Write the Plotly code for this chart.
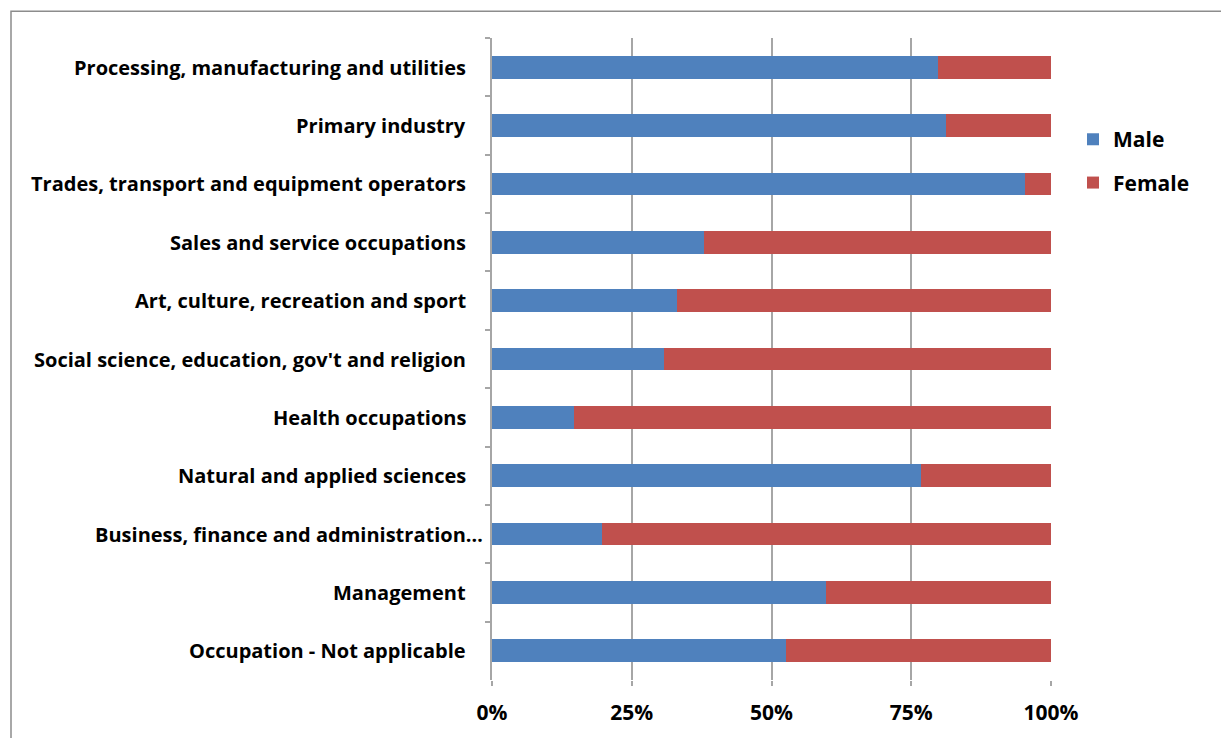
import plotly.graph_objects as go

# Occupation groups, top to bottom
categories = [
    "Processing, manufacturing and utilities",
    "Primary industry",
    "Trades, transport and equipment operators",
    "Sales and service occupations",
    "Art, culture, recreation and sport",
    "Social science, education, gov't and religion",
    "Health occupations",
    "Natural and applied sciences",
    "Business, finance and administration…",
    "Management",
    "Occupation - Not applicable",
]
male_pct = [79.7, 81.2, 95.4, 37.9, 33.1, 30.8, 14.7, 76.7, 19.7, 59.8, 52.6]
female_pct = [20.3, 18.8, 4.6, 62.1, 66.9, 69.2, 85.3, 23.3, 80.3, 40.2, 47.4]
x_ticks = [0, 25, 50, 75, 100]
x_tick_labels = ["0%", "25%", "50%", "75%", "100%"]

FONT = "Open Sans"
FSIZE = 20
GRID = "#A6A6A6"

fig = go.Figure()
fig.add_trace(go.Bar(
    y=categories, x=male_pct, name="Male", orientation="h",
    marker=dict(color="#4F81BD", line=dict(width=0)), legendgroup="m",
))
fig.add_trace(go.Bar(
    y=categories, x=female_pct, name="Female", orientation="h",
    marker=dict(color="#C0504D", line=dict(width=0)), legendgroup="f",
))

# category labels, right-aligned left of the axis
for cat in categories:
    fig.add_annotation(
        x=0, y=cat, xref="x", yref="y", text=cat, showarrow=False,
        xanchor="right", yanchor="middle",
        xshift=-7 if cat.endswith("…") else -24,
        font=dict(family=FONT, size=FSIZE, color="#000000", weight="bold"),
    )

# outer chart frame
L, R, T, B = 492, 1051, 38, 687
def px_x(p):
    return (p - L) / (R - L)
def px_y(p):
    return (B - p) / (B - T)
fig.add_shape(type="rect", xref="paper", yref="paper",
              x0=px_x(11), x1=px_x(1240), y0=px_y(760), y1=px_y(11),
              line=dict(color="#8C8C8C", width=1.5), fillcolor="rgba(0,0,0,0)",
              layer="below")

fig.update_layout(
    barmode="stack",
    bargap=0.61,
    width=1221, height=738,
    margin=dict(l=L, r=1221 - R, t=T, b=738 - B),
    paper_bgcolor="white",
    plot_bgcolor="white",
    font=dict(family=FONT, size=FSIZE, color="#000000"),
    legend=dict(
        x=px_x(1073), y=px_y(120), xanchor="left", yanchor="top",
        font=dict(family=FONT, size=21, color="#000000", weight="bold"),
        tracegroupgap=13, itemsizing="constant",
        bgcolor="rgba(0,0,0,0)",
    ),
    showlegend=True,
)
fig.update_xaxes(
    range=[0, 100], tickvals=x_ticks, ticktext=x_tick_labels,
    showgrid=True, gridcolor=GRID, gridwidth=1.5,
    zeroline=False, showline=False,
    ticks="outside", ticklen=5, tickcolor=GRID, tickwidth=1.5,
    ticklabelstandoff=9,
    tickfont=dict(family=FONT, size=21, color="#000000", weight="bold"),
    fixedrange=True,
)
fig.update_yaxes(
    categoryorder="array", categoryarray=categories, autorange="reversed",
    showticklabels=False,
    showline=True, linecolor=GRID, linewidth=1.5,
    ticks="outside", ticklen=5, tickcolor=GRID, tickwidth=1.5,
    tickson="boundaries", showgrid=False, zeroline=False,
    fixedrange=True,
)

fig.write_html("out.html")
